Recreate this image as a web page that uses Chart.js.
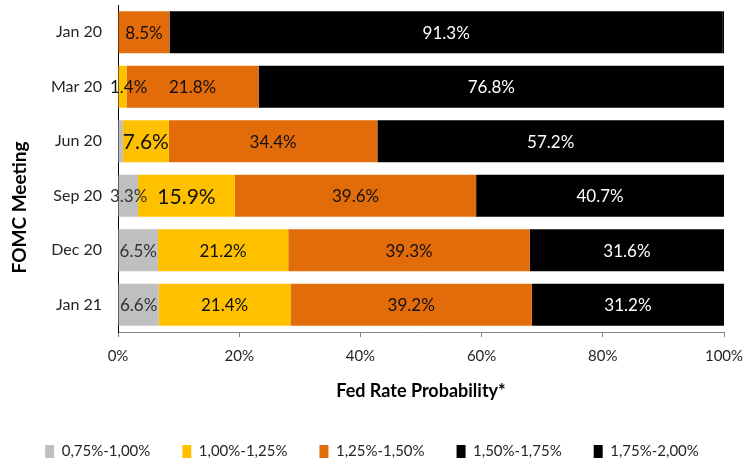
<!DOCTYPE html>
<html>
<head>
<meta charset="utf-8">
<script src="https://cdn.jsdelivr.net/npm/chart.js@4.4.1/dist/chart.umd.min.js"></script>
<style>
  html, body { margin: 0; padding: 0; background: #ffffff; }
  #wrap { width: 744px; height: 461px; position: relative; }
</style>
</head>
<body>
<div id="wrap"><canvas id="c" width="744" height="461"></canvas></div>
<script>
// ---- data ----
const categories = ['Jan 20', 'Mar 20', 'Jun 20', 'Sep 20', 'Dec 20', 'Jan 21'];
const seriesNames = ['0,75%-1,00%', '1,00%-1,25%', '1,25%-1,50%', '1,50%-1,75%', '1,75%-2,00%'];
const s075_100 = [0, 0, 0.8, 3.3, 6.5, 6.6];
const s100_125 = [0, 1.4, 7.6, 15.9, 21.2, 21.4];
const s125_150 = [8.5, 21.8, 34.4, 39.6, 39.3, 39.2];
const s150_175 = [91.3, 76.8, 57.2, 40.7, 31.6, 31.2];
const s175_200 = [0.2, 0, 0, 0, 0, 0];
const xTicks = [0, 20, 40, 60, 80, 100];
const xTitle = 'Fed Rate Probability*';
const yTitle = 'FOMC Meeting';

// ---- styles ----
const colors = ['#BFBFBF', '#FFC000', '#E36C0A', '#000000', '#000000'];
const labelColors = ['#333333', '#111111', '#111111', '#ffffff', '#ffffff'];
const FONT = 'Lato, "Open Sans", sans-serif';
const LABEL_SIZE = 17;
const bigLabels = { '1-2': 21, '1-3': 21 }; // dataset-category keys with a larger label

const raw = [s075_100, s100_125, s125_150, s150_175, s175_200];
// 100% stacked: each bar normalised to its total
const totals = categories.map((_, j) => raw.reduce((a, s) => a + s[j], 0));
const datasets = raw.map((s, i) => ({
  label: seriesNames[i],
  data: s.map((v, j) => v / totals[j] * 100),
  backgroundColor: colors[i],
  borderWidth: 0,
  categoryPercentage: 1,
  barPercentage: 0.77
}));

const segLabels = {
  id: 'segLabels',
  afterDatasetsDraw(chart) {
    const ctx = chart.ctx;
    const area = chart.chartArea;
    ctx.save();
    ctx.textAlign = 'center';
    ctx.textBaseline = 'middle';
    raw.forEach((s, i) => {
      const meta = chart.getDatasetMeta(i);
      meta.data.forEach((bar, j) => {
        const v = s[j];
        if (v < 1) return;
        const p = bar.getProps(['x', 'y', 'base'], true);
        const size = bigLabels[i + '-' + j] || LABEL_SIZE;
        ctx.font = size + 'px ' + FONT;
        ctx.fillStyle = labelColors[i];
        const txt = v.toFixed(1) + '%';
        const w = ctx.measureText(txt).width;
        const cx = Math.max((p.x + p.base) / 2, area.left - 8 + w / 2);
        ctx.fillText(txt, cx, p.y + 1);
      });
    });
    ctx.restore();
  }
};

// y-axis title, placed like the original (slightly below the plot centre)
const yTitlePlugin = {
  id: 'yTitlePlugin',
  afterDraw(chart) {
    const ctx = chart.ctx;
    const area = chart.chartArea;
    ctx.save();
    ctx.translate(20, (area.top + area.bottom) / 2 + 39);
    ctx.rotate(-Math.PI / 2);
    ctx.textAlign = 'center';
    ctx.textBaseline = 'middle';
    ctx.font = 'bold 19px ' + FONT;
    ctx.fillStyle = '#000';
    ctx.fillText(yTitle, 0, 0);
    ctx.restore();
  }
};

new Chart(document.getElementById('c'), {
  type: 'bar',
  data: { labels: categories, datasets },
  options: {
    indexAxis: 'y',
    responsive: false,
    animation: false,
    devicePixelRatio: 1,
    layout: { padding: { top: 5, right: 0, left: 0, bottom: -8 } },
    plugins: {
      tooltip: { enabled: false },
      legend: {
        position: 'bottom',
        labels: {
          boxWidth: 9,
          boxHeight: 13,
          padding: 32,
          color: '#262626',
          font: { family: FONT, size: 15 }
        }
      }
    },
    scales: {
      x: {
        stacked: true,
        min: 0,
        max: 100,
        afterBuildTicks(scale) { scale.ticks = xTicks.map(v => ({ value: v })); },
        ticks: {
          callback: v => v + '%',
          color: '#262626',
          padding: 10,
          maxRotation: 0,
          font: { family: FONT, size: 15 }
        },
        grid: { drawOnChartArea: false, drawTicks: true, tickLength: 5, color: '#868686' },
        border: { display: true, color: '#868686', width: 1 },
        title: {
          display: true,
          text: xTitle,
          color: '#000',
          padding: { top: 0, bottom: 10 },
          font: { family: FONT, size: 18, weight: 'bold' }
        },
        afterFit(scale) { scale.height = 80; scale.paddingRight = 20; scale.paddingLeft = 0; }
      },
      y: {
        stacked: true,
        ticks: {
          color: '#262626',
          padding: 16,
          font: { family: FONT, size: 16 }
        },
        grid: { display: false, drawTicks: false },
        border: { display: true, color: '#000000', width: 1 },
        title: { display: false, text: yTitle },
        afterFit(scale) { scale.width = 118; scale.paddingTop = 0; scale.paddingBottom = 0; }
      }
    }
  },
  plugins: [segLabels, yTitlePlugin]
});
</script>
</body>
</html>
